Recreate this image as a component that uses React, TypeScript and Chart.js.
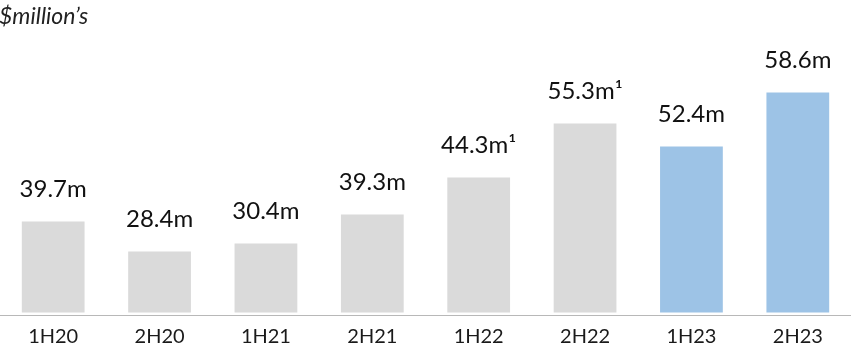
import React, { useEffect, useRef } from "react";
import { Chart, registerables } from "chart.js";

Chart.register(...registerables);

const categories = ["1H20", "2H20", "1H21", "2H21", "1H22", "2H22", "1H23", "2H23"];
// bar heights as drawn in the reference (relative units)
const barHeights = [91, 61, 69, 98, 135, 189, 166, 220];
const valueLabels = ["39.7m", "28.4m", "30.4m", "39.3m", "44.3m\u00B9", "55.3m\u00B9", "52.4m", "58.6m"];
const barColors = ["#DADADA", "#DADADA", "#DADADA", "#DADADA", "#DADADA", "#DADADA", "#9DC3E6", "#9DC3E6"];
const unitTitle = "$million\u2019s";

const FONT = "Lato, 'Open Sans', sans-serif";

const labelPlugin = {
  id: "valueLabels",
  afterDatasetsDraw(chart: any) {
    const ctx = chart.ctx;
    const meta = chart.getDatasetMeta(0);
    ctx.save();
    ctx.fillStyle = "#111111";
    ctx.font = `24px ${FONT}`;
    ctx.textAlign = "center";
    ctx.textBaseline = "alphabetic";
    meta.data.forEach((bar: any, i: number) => {
      ctx.fillText(valueLabels[i], bar.x, bar.y - 25);
    });
    ctx.restore();
  },
  afterDraw(chart: any) {
    const ctx = chart.ctx;
    ctx.save();
    ctx.fillStyle = "#222222";
    ctx.font = `italic 23px ${FONT}`;
    ctx.textAlign = "left";
    ctx.textBaseline = "alphabetic";
    ctx.fillText(unitTitle, -1, 24);
    ctx.restore();
  },
};

export default function App() {
  const ref = useRef<HTMLCanvasElement | null>(null);
  useEffect(() => {
    document.body.style.margin = "0";
    const canvas = ref.current;
    if (!canvas) return;
    const chart = new Chart(canvas, {
      type: "bar",
      data: {
        labels: categories,
        datasets: [
          {
            data: barHeights,
            backgroundColor: barColors,
            borderWidth: 0,
            barPercentage: 0.59,
            categoryPercentage: 1,
          },
        ],
      },
      options: {
        animation: false,
        responsive: true,
        maintainAspectRatio: false,
        layout: { padding: { top: 30, left: 0, right: 0, bottom: 0 } },
        plugins: {
          legend: { display: false },
          tooltip: { enabled: false },
          title: { display: false },
        },
        scales: {
          x: {
            grid: { display: false, drawTicks: false },
            border: { display: true, color: "#B8B8B8", width: 1, dash: [2, 2] },
            ticks: {
              color: "#1a1a1a",
              font: { family: FONT, size: 20, lineHeight: 1.2 },
              padding: 9.5,
              maxRotation: 0,
              autoSkip: false,
            },
            afterFit(scale: any) {
              scale.height = 30.5;
            },
          },
          y: {
            display: false,
            min: -3,
            max: 282.5,
          },
        },
      },
      plugins: [labelPlugin],
    });
    if ((document as any).fonts && (document as any).fonts.ready) {
      (document as any).fonts.ready.then(() => chart.update());
    }
    return () => chart.destroy();
  }, []);
  return (
    <div style={{ position: "absolute", left: 0, top: 0, width: 851, height: 346 }}>
      <canvas ref={ref} />
    </div>
  );
}
